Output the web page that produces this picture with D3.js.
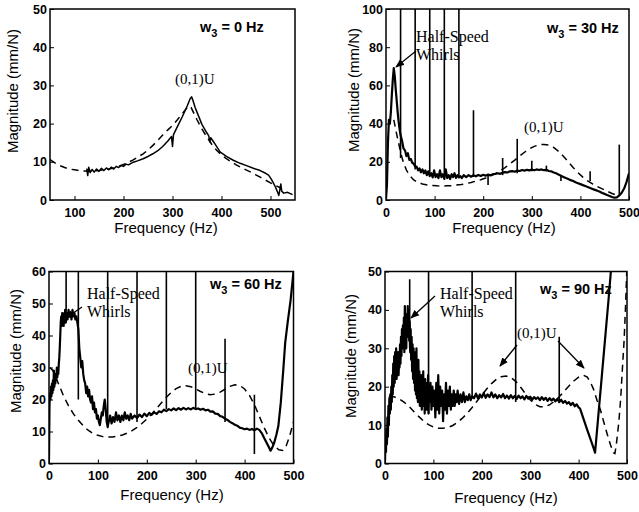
<!DOCTYPE html>
<html><head><meta charset="utf-8">
<script src="https://cdn.jsdelivr.net/npm/d3@7"></script>
<style>
html,body{margin:0;padding:0;background:#fff;}
svg{display:block;}
.tick text{font-family:"Liberation Sans",Arial,sans-serif;font-weight:bold;font-size:12.5px;fill:#000;}
.tick line{stroke:#000;stroke-width:1;}
</style></head><body>
<svg id="chart" width="639" height="512"></svg>
<script>
// Frequency response magnitude, measured (solid) vs. model (dashed), for four spin speeds.

// ---- tick labels ----
const freqTicks0 = [100, 200, 300, 400, 500];
const freqTicks = [0, 100, 200, 300, 400, 500];
const magTicks0 = [0, 10, 20, 30, 40, 50];
const magTicks30 = [0, 20, 40, 60, 80, 100];
const magTicks60 = [0, 10, 20, 30, 40, 50, 60];
const magTicks90 = [0, 10, 20, 30, 40, 50];

// ---- w3 = 0 Hz ----
const w0Solid = [[125,8.2],[127,6.4],[129,8.6],[132,7.2],[136,8.0],[140,7.3],[145,8.1],[150,7.5],[155,8.3],[160,7.7],[165,8.4],[170,7.9],[175,8.6],[180,8.1],[185,8.8],[190,8.5],[195,9.0],[200,8.8],[205,9.4],[210,9.2],[220,9.9],[230,10.3],[240,10.8],[250,11.4],[260,12.1],[270,12.9],[280,14.0],[290,15.4],[298,16.6],[300,14.0],[302,17.1],[310,19.2],[320,21.8],[330,24.6],[336,26.5],[339,27.0],[342,26.0],[346,24.3],[350,23.0],[360,19.8],[370,17.6],[374,16.8],[376,15.2],[378,16.3],[385,15.0],[397,12.6],[410,11.4],[424,10.4],[438,9.6],[451,9.0],[465,8.3],[479,7.7],[490,7.0],[496,6.5],[501,5.6],[506,4.4],[510,3.4],[514,2.2],[517,1.2],[519,2.6],[521,4.2],[523,2.3],[527,1.8],[535,2.0],[545,1.4]];
const w0Dashed = [[50,10.6],[60,9.7],[70,9.0],[80,8.5],[90,8.1],[100,7.9],[110,7.7],[120,7.6],[130,7.5],[140,7.6],[150,7.7],[160,7.9],[170,8.1],[180,8.4],[190,8.8],[200,9.3],[210,9.9],[220,10.5],[230,11.3],[240,12.1],[250,13.1],[260,14.3],[270,15.6],[280,17.0],[290,18.3],[300,19.5],[310,21.0],[320,22.6],[328,23.9],[334,24.6],[338,24.2],[344,22.6],[350,21.0],[360,18.6],[370,16.5],[380,14.6],[390,13.0],[400,11.8],[410,10.8],[420,10.0],[430,9.2],[440,8.5],[450,7.9],[460,7.3],[470,6.6],[480,5.9],[490,5.2],[500,4.5],[510,3.8],[520,3.2]];
const w0Spikes = [];

// ---- w3 = 30 Hz ----
const w30Solid = [[0,0.5],[2,8],[4,30],[6,42],[8,40],[10,46],[12,55],[14,63],[16,69],[18,65],[20,58],[22,52],[24,46],[26,41],[28,37],[30,34],[33,31],[36,27],[39,26],[42,23],[45,24.5],[48,21],[51,21.5],[54,19.5],[57,19],[60,17.5],[63,17.5],[66,15.5],[69,16.5],[72,14.5],[75,16],[78,14],[81,15.5],[84,13],[87,15],[90,12.5],[93,14],[96,11.8],[99,15.5],[102,12],[105,13.5],[108,11.5],[111,15.5],[114,12],[117,13.5],[120,11],[123,16],[126,11.5],[129,13],[132,11],[135,13.5],[138,12],[141,14],[144,11.5],[147,13],[150,11.8],[153,12.5],[156,11.5],[160,13],[165,12],[170,13],[175,12.2],[180,13],[185,12.4],[190,13.1],[195,12.6],[200,13.2],[205,12.7],[210,13.3],[215,12.9],[220,13.5],[225,13.6],[230,14],[235,13.7],[240,14.3],[245,14.6],[250,14.4],[255,15],[260,15.1],[265,14.8],[270,15.4],[275,15.2],[280,15.7],[285,15.4],[290,15.8],[295,15.5],[300,15.9],[305,15.6],[310,16],[315,15.7],[320,16],[325,15.6],[330,15.8],[335,15.2],[340,15],[345,14.4],[350,14],[355,13.3],[360,12.7],[365,12.1],[370,11.5],[375,11],[380,10.4],[385,9.9],[390,9.3],[395,8.8],[400,8.3],[405,7.8],[410,7.3],[415,6.8],[420,6.3],[425,5.8],[430,5.3],[435,4.8],[440,4.3],[445,3.7],[450,3.2],[455,2.6],[460,2.1],[465,1.6],[470,1.2],[475,1.4],[480,2.4],[485,3.8],[490,6],[495,9.5],[500,14]];
const w30Dashed = [[16,42],[20,37],[24,32],[28,27.5],[32,23],[36,19.5],[42,15.7],[48,13],[57,10.5],[65,9.3],[75,8.4],[85,7.9],[95,7.6],[105,7.4],[115,7.3],[125,7.4],[135,7.5],[145,7.8],[155,8.1],[165,8.6],[175,9.2],[185,9.9],[195,10.6],[205,11.5],[215,12.5],[225,13.8],[235,15.3],[245,17],[255,18.9],[265,20.9],[275,23],[285,25],[295,26.8],[305,28.1],[315,28.9],[325,29.1],[335,28.7],[345,27.5],[355,25.5],[365,22.9],[375,20],[385,17],[395,14.3],[405,12],[415,10],[425,8.4],[435,7],[445,5.8],[455,4.6],[465,3.4],[475,2.5],[480,2.2]];
// rotor harmonics: [frequency, low, high]
const w30Spikes = [[30,22,100],[60,16,100],[90,13,100],[120,12,100],[150,12,100],[180,12,47],[210,7.8,13],[240,13,22],[270,14,32],[300,15,20.5],[330,15,18],[360,10,13],[420,10,15],[480,2,29]];

// ---- w3 = 60 Hz ----
const w60Solid = [[0,1],[1,18],[2,22],[3,20],[4,24],[5,21],[6,25],[7,22],[8,26],[9,23],[10,29],[11,24],[12,27],[13,25],[14,28],[15,26],[16,30],[17,27],[18,29],[19,28],[20,31],[21,33],[22,36],[23,40],[24,44],[25,46],[26,43],[27,47],[28,44],[29,46],[30,43],[31,47],[32,45],[33,48],[34,44],[36,47],[38,45],[40,48],[42,46],[44,47],[46,45],[48,48],[50,46],[52,47],[54,45],[56,46],[58,44],[60,42],[62,36],[64,33],[66,30],[68,32],[70,28],[72,26],[74,25],[76,22],[78,24],[80,21],[82,23],[84,20],[86,19],[88,21],[90,17],[92,19],[94,16],[96,17],[98,14],[100,15],[102,13],[104,12],[106,14],[108,16],[110,15],[112,18],[114,20],[116,17],[118,13],[120,11.5],[122,13],[125,15],[128,12.5],[131,14.5],[134,13],[137,16],[140,13.5],[143,15],[146,13],[149,15],[152,13.5],[155,16],[158,14],[161,15],[164,13.5],[167,15.5],[170,14],[175,15],[180,14.2],[185,15.3],[190,14.5],[195,15.6],[200,14.8],[205,15.8],[210,15.2],[215,16],[220,15.5],[225,16.3],[230,16],[235,16.8],[240,16.4],[245,17],[250,16.6],[255,17.2],[260,16.7],[265,17.3],[270,16.8],[275,17.4],[280,16.9],[285,17.3],[290,16.9],[295,17.4],[300,17],[305,17.2],[310,16.8],[315,17.1],[320,16.6],[325,16.8],[330,16.2],[335,16.3],[340,15.6],[345,15.5],[350,14.8],[355,14.6],[360,14],[365,13.6],[370,13],[375,12.6],[380,12.1],[385,11.8],[390,11.2],[395,11],[400,10.7],[405,10.9],[410,10.5],[415,10.8],[420,10.4],[425,10.9],[430,10.5],[435,9.5],[440,8],[445,6.5],[450,5],[453,4],[456,4.8],[460,6.2],[465,9],[469,11.7],[474,19],[479,29],[483,37.7],[488,44],[494,51],[500,60]];
const w60Dashed = [[2,30],[8,29],[15,26.5],[22,24],[30,21],[40,18],[50,15.5],[60,13.5],[70,11.8],[80,10.4],[90,9.4],[100,8.8],[110,8.4],[120,8.3],[130,8.3],[140,8.5],[150,8.9],[160,9.5],[170,10.3],[180,11.3],[190,12.5],[200,13.9],[210,15.5],[220,17.2],[230,19],[240,20.7],[250,22.2],[260,23.4],[270,24.1],[280,24.3],[290,24],[300,23.3],[310,22.5],[320,21.8],[330,21.5],[340,21.7],[350,22.3],[360,23.2],[370,24.1],[380,24.6],[390,24.4],[400,23.3],[410,21.3],[420,18.4],[430,14.8],[440,11.2],[450,8],[460,5.6],[470,4.3],[478,4.1],[485,5.5],[492,8.5],[500,13]];
const w60Spikes = [[35,44,60],[60,20,60],[120,11,60],[180,13,60],[240,17,60],[300,17,60],[360,13,39],[420,3,21.5]];

// ---- w3 = 90 Hz ----
const w90Solid = [[0,0.5],[1,6],[2,3],[3,9],[4,5],[5,12],[6,7],[7,15],[8,10],[9,17],[10,13],[11,18],[12,14],[13,20],[14,16],[15,23],[16,18],[17,26],[18,20],[19,28],[20,21],[21,29],[22,23],[23,30],[24,22],[25,27],[26,24],[27,29],[28,23],[29,26],[30,25],[31,31],[32,26],[33,33],[34,28],[35,35],[36,30],[37,36],[38,31],[39,38],[40,29],[41,41],[42,32],[43,37],[44,30],[45,39],[46,33],[47,41],[48,35],[49,40],[50,32],[51,37],[52,29],[53,35],[54,27],[55,33],[56,24],[57,31],[58,22],[59,30],[60,21],[61,29],[62,19],[63,27],[64,18],[65,30],[66,17],[67,25],[68,16],[69,27],[70,17],[71,24],[72,15],[73,22],[74,16],[75,23],[76,14],[77,21],[78,16],[79,24],[80,15],[81,20],[82,13],[83,22],[84,15],[85,19],[86,14],[87,21],[88,15],[89,23],[90,13],[91,20],[92,16],[94,21],[96,14],[98,20],[100,15],[102,19],[104,12],[106,21],[108,14],[110,23],[112,13],[114,20],[116,15],[118,19],[120,11],[122,18],[124,14],[126,21],[128,13],[130,19],[132,15],[134,20],[136,14],[138,18],[140,15],[142,19],[144,15],[146,18],[148,16],[150,19],[153,15.5],[156,18],[159,16],[162,18.5],[165,16],[168,17.5],[171,16.5],[174,18],[177,16.5],[180,17.5],[184,17],[188,18.2],[192,17],[196,18],[200,17.2],[204,18.4],[208,17.1],[212,18],[216,17.3],[220,18.5],[224,17.2],[228,18],[232,17],[236,17.8],[240,17.2],[244,18.1],[248,17],[252,17.7],[256,16.9],[260,17.8],[264,17],[268,17.6],[272,16.8],[276,17.7],[280,17],[284,17.5],[288,16.7],[292,17.6],[296,16.9],[300,17.4],[304,16.6],[308,17.3],[312,16.8],[316,17.2],[320,16.5],[324,17.3],[328,16.6],[332,17.1],[336,16.3],[340,17],[344,16.4],[348,16.9],[352,16.2],[356,16.8],[360,16],[364,16.6],[368,15.8],[372,16.3],[376,15.6],[380,16],[384,15.2],[388,15.8],[392,14.9],[396,15.4],[400,14.6],[403,14.3],[410,11.7],[418,8.7],[426,5.8],[431,4],[434,2.8],[440,11.4],[448,22.8],[456,34.3],[462,42.9],[467,50.5]];
const w90Dashed = [[8,17.5],[20,17.3],[30,16.8],[40,15.9],[50,14.8],[60,13.5],[70,12.2],[80,11],[90,10.1],[100,9.5],[110,9.2],[120,9.2],[130,9.4],[140,9.9],[150,10.7],[160,11.8],[170,13.1],[180,14.6],[190,16.2],[200,17.8],[210,19.4],[220,20.8],[230,21.9],[240,22.6],[250,22.8],[260,22.4],[270,21.4],[280,19.9],[290,18.2],[300,16.6],[310,15.4],[320,14.8],[330,14.8],[340,15.3],[350,16.2],[360,17.4],[370,18.8],[380,20.2],[390,21.5],[400,22.5],[410,23],[418,22.5],[425,21],[431,19.3],[438,16.5],[445,14],[452,10.8],[459,7.7],[466,4.8],[472,2.8],[475,2.6],[478,5],[483,10.6],[487,17],[490,23.6],[494,32],[497,41],[499.5,50]];
const w90Spikes = [[51,30,48],[90,13,50],[180,17,50],[270,16,50],[360,16,33]];

// ---- panel layout ----
const panels = [
  { solid: w0Solid, dashed: w0Dashed, spikes: w0Spikes, xDomain: [50, 550], yDomain: [0, 50],
    xTicks: freqTicks0, yTicks: magTicks0, left: 50, right: 295, top: 9, bottom: 200, lw: 1.5,
    speed: "0", speedAt: [200, 32], xTitleAt: [166, 233], yTitleAt: [18, 91],
    texts: [["(0,1)U", 175, 84, 15]], arrows: [] },
  { solid: w30Solid, dashed: w30Dashed, spikes: w30Spikes, xDomain: [0, 500], yDomain: [0, 100],
    xTicks: freqTicks, yTicks: magTicks30, left: 386, right: 629, top: 9, bottom: 200, lw: 2.2,
    speed: "30", speedAt: [547, 33], xTitleAt: [504, 233], yTitleAt: [359, 90],
    texts: [["Half-Speed", 416, 42, 16], ["Whirls", 416, 60, 16], ["(0,1)U", 524, 132, 15]],
    arrows: [[416, 51, 396, 67]] },
  { solid: w60Solid, dashed: w60Dashed, spikes: w60Spikes, xDomain: [0, 500], yDomain: [0, 60],
    xTicks: freqTicks, yTicks: magTicks60, left: 49, right: 293.5, top: 271.5, bottom: 463.5, lw: 2.2,
    speed: "60", speedAt: [210, 289], xTitleAt: [172, 500], yTitleAt: [21, 351],
    texts: [["Half-Speed", 87, 299, 16], ["Whirls", 87, 317, 16], ["(0,1)U", 188, 373, 15]],
    arrows: [[82, 307, 66, 318]] },
  { solid: w90Solid, dashed: w90Dashed, spikes: w90Spikes, xDomain: [0, 500], yDomain: [0, 50],
    xTicks: freqTicks, yTicks: magTicks90, left: 385, right: 627, top: 271.5, bottom: 463.5, lw: 2.2,
    speed: "90", speedAt: [540, 294], xTitleAt: [506, 503], yTitleAt: [356, 356],
    texts: [["Half-Speed", 440, 299, 16], ["Whirls", 440, 317, 16], ["(0,1)U", 517, 338, 15]],
    arrows: [[435, 296, 411, 318], [517, 345, 500, 366], [558, 341, 584, 368]] }
];

const svg = d3.select("#chart");
const defs = svg.append("defs");
defs.append("marker").attr("id", "head").attr("viewBox", "0 0 10 10")
  .attr("refX", 9).attr("refY", 5).attr("markerWidth", 9).attr("markerHeight", 9)
  .attr("markerUnits", "userSpaceOnUse").attr("orient", "auto")
  .append("path").attr("d", "M0,1 L10,5 L0,9 Z").attr("fill", "#000");

const sans = '"Liberation Sans", Arial, sans-serif';
const serif = '"Liberation Serif", "Times New Roman", serif';

panels.forEach((p, i) => {
  const x = d3.scaleLinear().domain(p.xDomain).range([p.left, p.right]);
  const y = d3.scaleLinear().domain(p.yDomain).range([p.bottom, p.top]);
  const g = svg.append("g");

  defs.append("clipPath").attr("id", "clip" + i).append("rect")
    .attr("x", p.left).attr("y", p.top)
    .attr("width", p.right - p.left).attr("height", p.bottom - p.top);

  const plot = g.append("g").attr("clip-path", `url(#clip${i})`);
  const line = d3.line().x(d => x(d[0])).y(d => y(d[1]));

  plot.append("path").datum(p.dashed).attr("d", line)
    .attr("fill", "none").attr("stroke", "#000").attr("stroke-width", 1.5)
    .attr("stroke-dasharray", "7,5");

  plot.append("path").datum(p.solid).attr("d", line)
    .attr("fill", "none").attr("stroke", "#000").attr("stroke-width", p.lw)
    .attr("stroke-linejoin", "round");

  plot.selectAll("line.spike").data(p.spikes).join("line").attr("class", "spike")
    .attr("x1", d => x(d[0])).attr("x2", d => x(d[0]))
    .attr("y1", d => y(d[1])).attr("y2", d => y(d[2]))
    .attr("stroke", "#000").attr("stroke-width", 1.6);

  // axes with inward ticks
  const xa = g.append("g").attr("transform", `translate(0,${p.bottom})`)
    .call(d3.axisBottom(x).tickValues(p.xTicks).tickSizeInner(-4).tickSizeOuter(0).tickPadding(8));
  xa.select(".domain").remove();
  const ya = g.append("g").attr("transform", `translate(${p.left},0)`)
    .call(d3.axisLeft(y).tickValues(p.yTicks).tickSizeInner(-4).tickSizeOuter(0).tickPadding(3));
  ya.select(".domain").remove();

  g.append("rect").attr("x", p.left).attr("y", p.top)
    .attr("width", p.right - p.left).attr("height", p.bottom - p.top)
    .attr("fill", "none").attr("stroke", "#000").attr("stroke-width", 1.5);

  // axis titles
  g.append("text").attr("x", p.xTitleAt[0]).attr("y", p.xTitleAt[1])
    .attr("text-anchor", "middle").attr("font-family", sans).attr("font-size", 15)
    .text("Frequency (Hz)");
  g.append("text").attr("transform", `translate(${p.yTitleAt[0]},${p.yTitleAt[1]}) rotate(-90)`)
    .attr("text-anchor", "middle").attr("font-family", sans).attr("font-size", 15)
    .text("Magnitude (mm/N)");

  // spin speed label
  const sp = g.append("text").attr("x", p.speedAt[0]).attr("y", p.speedAt[1])
    .attr("font-family", sans).attr("font-weight", "bold").attr("font-size", 14.5);
  sp.append("tspan").text("w");
  sp.append("tspan").attr("dy", 5).attr("font-size", 11).text("3");
  sp.append("tspan").attr("dy", -5).text(` = ${p.speed} Hz`);

  // annotations
  p.texts.forEach(t => {
    g.append("text").attr("x", t[1]).attr("y", t[2])
      .attr("font-family", serif).attr("font-size", t[3]).text(t[0]);
  });
  p.arrows.forEach(a => {
    g.append("line").attr("x1", a[0]).attr("y1", a[1]).attr("x2", a[2]).attr("y2", a[3])
      .attr("stroke", "#000").attr("stroke-width", 1.3).attr("marker-end", "url(#head)");
  });
});
</script>
</body></html>
